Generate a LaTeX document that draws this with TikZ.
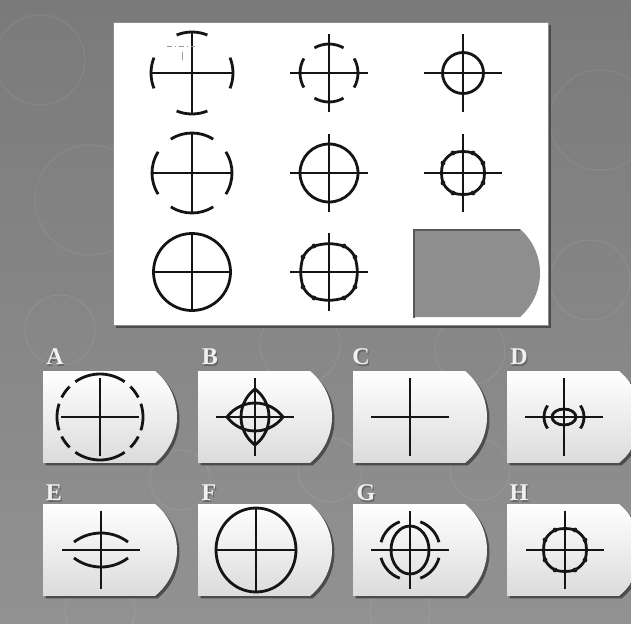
\documentclass[tikz,border=0pt]{standalone}
\usepackage{fontspec}
\setmainfont{Liberation Serif}
\definecolor{bgtop}{HTML}{7A7A7A}
\definecolor{bgbot}{HTML}{929292}
\definecolor{holegray}{HTML}{8E8E8E}
\newcommand\figcross[1]{\draw[fig] (-#1,0)--(#1,0) (0,-#1)--(0,#1);}
\newcommand\figarcs[2]{%
  \foreach \a in {0,90,180,270}{\draw[fig] ({\a-#2}:#1) arc[start angle=\a-#2, end angle=\a+#2, radius=#1];}}
\newcommand\figocta[3]{%
  \draw[fig,line join=round] (#2,#1) to[bend right=#3] (#1,#2) to[bend right=#3] (-#1,#2) to[bend right=#3] (-#2,#1) to[bend right=#3] (-#2,-#1) to[bend right=#3] (-#1,-#2) to[bend right=#3] (#1,-#2) to[bend right=#3] (#2,-#1) to[bend right=#3] (#2,#1) -- cycle;
  \foreach \p in {(#2,#1),(#1,#2),(-#1,#2),(-#2,#1),(-#2,-#1),(-#1,-#2),(#1,-#2),(#2,-#1)}{\fill[black!90] \p circle (2.4);}}
\newcommand\cardat[2]{%
  \fill[black!70] (#1+2.5,-#2-2.5) -- ++(112,0) arc[start angle=51.1,end angle=-51.1,radius=59.1] -- ++(-112,0) -- cycle;
  \shade[top color=white, bottom color=black!14] (#1,-#2) -- ++(112,0) arc[start angle=51.1,end angle=-51.1,radius=59.1] -- ++(-112,0) -- cycle;}
\begin{document}
\begin{tikzpicture}[x=1pt,y=1pt,
  fig/.style={line width=2.8pt, draw=black!92},
  lab/.style={font=\bfseries\fontsize{24}{24}\selectfont, text=white!94!black, inner sep=0pt},
  labsh/.style={font=\bfseries\fontsize{24}{24}\selectfont, text=black!60, inner sep=0pt}]
\useasboundingbox (0,0) rectangle (631,-623);
\shade[top color=bgtop, bottom color=bgbot] (0,0) rectangle (631,-623);
% faint background texture
\begin{scope}[draw=white, opacity=0.08, line width=1pt]
  \draw (40,-60) circle (45); \draw (90,-200) circle (55); \draw (600,-120) circle (50);
  \draw (590,-280) circle (40); \draw (60,-330) circle (35); \draw (300,-345) circle (40);
  \draw (470,-350) circle (35); \draw (180,-480) circle (30); \draw (330,-470) circle (32);
  \draw (480,-470) circle (30); \draw (100,-610) circle (35); \draw (400,-612) circle (30);
\end{scope}
% top panel
\fill[black!70] (116,-25) rectangle (551,-328);
\fill[white] (113,-22) rectangle (548,-325);
\draw[black!45, line width=0.8pt] (113,-22) rectangle (548,-325);
% row 1
\begin{scope}[shift={(192,-73)}]
  \figcross{40}\figarcs{41}{22}
  \draw[black!40, line width=0.9pt, dash pattern=on 5pt off 3pt on 1pt off 3pt] (-25,27) -- (3,27);
  \draw[black!40, line width=0.9pt] (-10,21) -- (-10,13);
\end{scope}
\begin{scope}[shift={(329,-73)}]\figcross{39}\figarcs{29}{30}\end{scope}
\begin{scope}[shift={(463,-73)}]\figcross{39}\draw[fig] (0,0) circle (20.5);\end{scope}
% row 2
\begin{scope}[shift={(192,-173)}]\figcross{39}\figarcs{40}{32}\end{scope}
\begin{scope}[shift={(329,-173)}]\figcross{39}\draw[fig] (0,0) circle (29);\end{scope}
\begin{scope}[shift={(463,-173)}]\figcross{39}\figocta{10}{20}{15}\end{scope}
% row 3
\begin{scope}[shift={(192,-272)}]\figcross{38.5}\draw[fig] (0,0) circle (38.5);\end{scope}
\begin{scope}[shift={(329,-272)}]\figcross{39}\figocta{15}{26}{15}\end{scope}
% hole
\fill[holegray] (413,-229) -- ++(107,0) arc[start angle=48.9,end angle=-48.9,radius=58.4] -- ++(-107,0) -- cycle;
\draw[black!65, line width=2.5pt] (414,-318) -- (414,-230) -- (520,-230);
% cards
\cardat{43}{371}\cardat{198}{371}\cardat{353}{371}\cardat{507}{371}
\cardat{43}{504}\cardat{198}{504}\cardat{353}{504}\cardat{507}{504}
% labels
\foreach \n/\x/\y in {A/55/357,B/210/357,C/361/357,D/519/357,E/54/493,F/209/493,G/366/493,H/519/493}{
  \node[labsh] (sh\n) at (\x+1.2,-\y-1.2) {\n};
  \node[lab] (lab\n) at (\x,-\y) {\n};}
% A
\begin{scope}[shift={(100,-417)}]
  \figcross{39}
  \foreach \s/\e in {55/125,235/305,162/198,-18/18,27/45,135/153,207/225,315/333}{\draw[fig] (\s:43) arc[start angle=\s,end angle=\e,radius=43];}
\end{scope}
% B
\begin{scope}[shift={(255,-417)}]
  \figcross{39}
  \draw[fig,line join=round] (-28,0) arc[start angle=143.13,end angle=36.87,radius=35] arc[start angle=-36.87,end angle=-143.13,radius=35] -- cycle;
  \draw[fig,line join=round] (0,-28) arc[start angle=-53.13,end angle=53.13,radius=35] arc[start angle=126.87,end angle=233.13,radius=35] -- cycle;
\end{scope}
% C
\begin{scope}[shift={(410,-417)}]\figcross{39}\end{scope}
% D
\begin{scope}[shift={(564,-417)}]
  \figcross{39}
  \draw[fig] (0,0) ellipse[x radius=12,y radius=8];
  \draw[fig] (145:20) arc[start angle=145,end angle=215,radius=20];
  \draw[fig] (-35:20) arc[start angle=-35,end angle=35,radius=20];
\end{scope}
% E
\begin{scope}[shift={(101,-550)}]
  \figcross{39}
  \draw[fig] (0,-28) ++(126.9:45) arc[start angle=126.9,end angle=53.1,radius=45];
  \draw[fig] (0,28) ++(233.1:45) arc[start angle=233.1,end angle=306.9,radius=45];
\end{scope}
% F
\begin{scope}[shift={(256,-550)}]
  \draw[fig] (-40,0)--(40,0) (0,-42)--(0,42);
  \draw[fig] (0,0) ellipse[x radius=40,y radius=42];
\end{scope}
% G
\begin{scope}[shift={(410,-550)}]
  \figcross{39}
  \draw[fig] (0,0) ellipse[x radius=19,y radius=24];
  \foreach \s/\e in {15/70,110/165,195/250,290/345}{\draw[fig] (\s:30) arc[start angle=\s,end angle=\e,radius=30];}
\end{scope}
% H
\begin{scope}[shift={(565,-550)}]\figcross{39}\figocta{10}{20}{15}\end{scope}
\end{tikzpicture}
\end{document}
